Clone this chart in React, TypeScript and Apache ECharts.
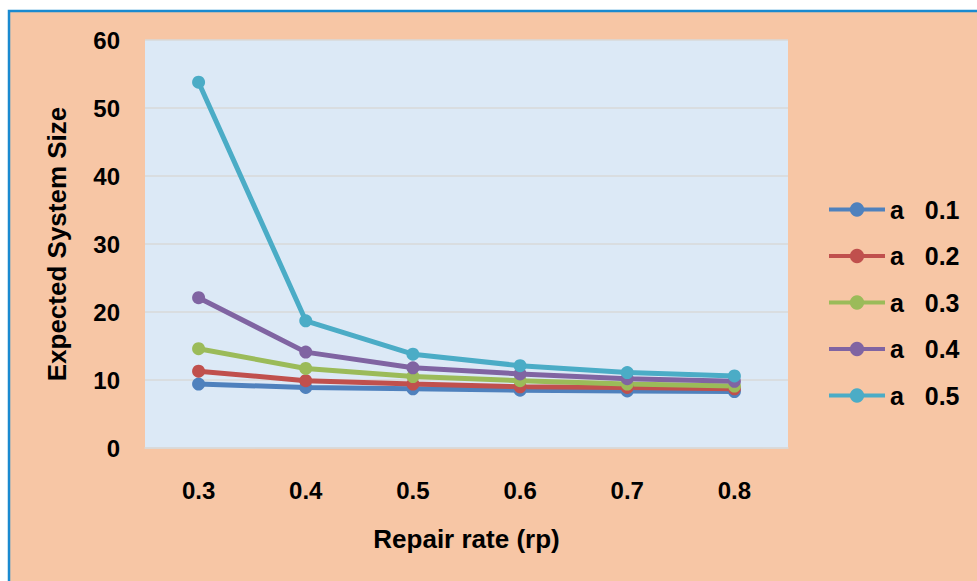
import React, { useEffect, useRef } from "react";
import * as echarts from "echarts";

const categories = ["0.3", "0.4", "0.5", "0.6", "0.7", "0.8"];
const seriesNames = ["a   0.1", "a   0.2", "a   0.3", "a   0.4", "a   0.5"];
const a01 = [9.4, 8.9, 8.7, 8.5, 8.4, 8.3];
const a02 = [11.3, 9.9, 9.4, 9.0, 8.9, 8.7];
const a03 = [14.6, 11.7, 10.5, 9.9, 9.4, 9.1];
const a04 = [22.1, 14.1, 11.8, 10.9, 10.2, 9.8];
const a05 = [53.8, 18.7, 13.8, 12.1, 11.1, 10.6];
const colors = ["#4F81BD", "#C0504D", "#9BBB59", "#8064A2", "#4BACC6"];

const FONT = "'Liberation Sans', Arial, sans-serif";

export default function App() {
  const ref = useRef<HTMLDivElement>(null);
  useEffect(() => {
    if (!ref.current) return;
    const chart = echarts.init(ref.current, null, { renderer: "svg" });
    const values = [a01, a02, a03, a04, a05];
    chart.setOption({
      animation: false,
      backgroundColor: "#ffffff",
      color: colors,
      graphic: [
        {
          type: "rect",
          z: -100,
          silent: true,
          shape: { x: 9, y: 11, width: 1100, height: 700 },
          style: { fill: "#F7C6A5", stroke: "#1A8AD0", lineWidth: 2.5 },
        },
      ],
      grid: {
        left: 145,
        right: 189,
        top: 40,
        bottom: 133,
        show: true,
        backgroundColor: "#DCE9F6",
        borderWidth: 0,
      },
      legend: {
        orient: "vertical",
        left: 827,
        top: 197,
        padding: 0,
        itemWidth: 56,
        itemHeight: 18,
        itemGap: 21.5,
        lineStyle: { width: 4 },
        textStyle: {
          fontFamily: FONT,
          fontWeight: "bold",
          fontSize: 25,
          lineHeight: 24,
          color: "#000",
        },
        data: seriesNames,
      },
      xAxis: {
        type: "category",
        data: categories,
        boundaryGap: true,
        axisTick: { show: false },
        axisLine: { show: true, lineStyle: { color: "#D9D9D9", width: 1.5 } },
        axisLabel: {
          margin: 30,
          fontFamily: FONT,
          fontWeight: "bold",
          fontSize: 24,
          color: "#000",
        },
        name: "Repair rate (rp)",
        nameLocation: "middle",
        nameGap: 78,
        nameTextStyle: {
          fontFamily: FONT,
          fontWeight: "bold",
          fontSize: 26,
          color: "#000",
        },
      },
      yAxis: {
        type: "value",
        min: 0,
        max: 60,
        interval: 10,
        axisLine: { show: false },
        axisTick: { show: false },
        splitLine: { show: true, lineStyle: { color: "#D9D9D9", width: 1.5 } },
        axisLabel: {
          margin: 25,
          fontFamily: FONT,
          fontWeight: "bold",
          fontSize: 24,
          color: "#000",
        },
        name: "Expected System Size",
        nameLocation: "middle",
        nameGap: 75,
        nameTextStyle: {
          fontFamily: FONT,
          fontWeight: "bold",
          fontSize: 26,
          color: "#000",
        },
      },
      series: values.map((v, i) => ({
        name: seriesNames[i],
        type: "line",
        data: v,
        symbol: "circle",
        symbolSize: 13,
        lineStyle: { width: 5, color: colors[i] },
        itemStyle: { color: colors[i] },
      })),
    });
    return () => chart.dispose();
  }, []);
  return (
    <div
      ref={ref}
      style={{ position: "fixed", left: 0, top: 0, width: 977, height: 581 }}
    />
  );
}
